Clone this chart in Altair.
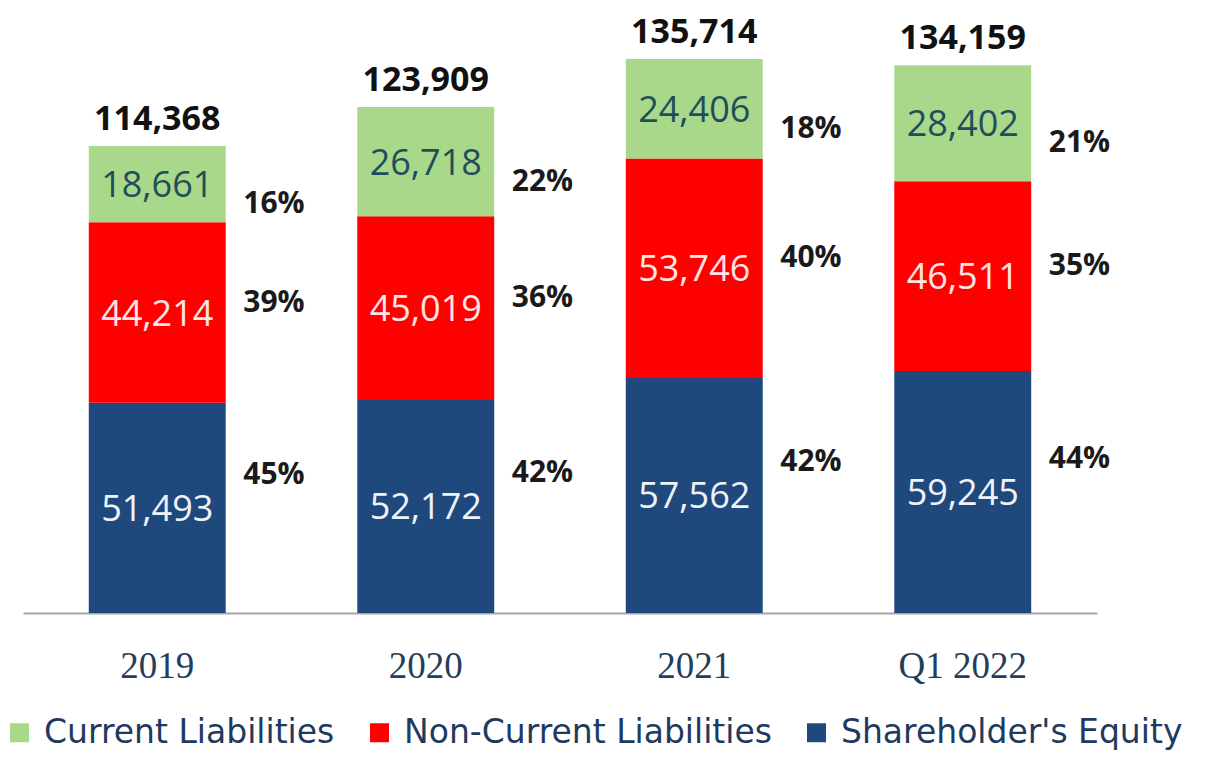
import altair as alt
import pandas as pd

periods = ["2019", "2020", "2021", "Q1 2022"]
series = ["Shareholder's Equity", "Non-Current Liabilities", "Current Liabilities"]
equity = [51493, 52172, 57562, 59245]
noncurrent = [44214, 45019, 53746, 46511]
current = [18661, 26718, 24406, 28402]
totals = [114368, 123909, 135714, 134159]
pct_equity = ["45%", "42%", "42%", "44%"]
pct_noncurrent = ["39%", "36%", "40%", "35%"]
pct_current = ["16%", "22%", "18%", "21%"]

legend_order = ["Current Liabilities", "Non-Current Liabilities", "Shareholder's Equity"]
legend_colors = ["#a9d88a", "#ff0000", "#1f497d"]

values_by_series = [equity, noncurrent, current]
pcts_by_series = [pct_equity, pct_noncurrent, pct_current]

rows = []
for i, p in enumerate(periods):
    base = 0
    for k, s in enumerate(series):
        v = values_by_series[k][i]
        rows.append({"period": p, "series": s, "ord": k, "value": v,
                     "mid": base + v / 2, "pct": pcts_by_series[k][i]})
        base += v
df = pd.DataFrame(rows)
tot_df = pd.DataFrame({"period": periods, "total": totals})

yscale = alt.Scale(domain=[0, 145000], nice=False)
x_enc = alt.X("period:N", sort=periods,
              scale=alt.Scale(paddingInner=0.49, paddingOuter=0.245),
              axis=alt.Axis(title=None, labelAngle=0, ticks=False, grid=False,
                            domainColor="#a6a6a6", domainWidth=2,
                            labelFont="Liberation Serif", labelFontSize=37,
                            labelColor="#253d5b", labelPadding=35))

bars = alt.Chart(df).mark_bar().encode(
    x=x_enc,
    y=alt.Y("value:Q", stack="zero", scale=yscale, axis=None),
    color=alt.Color("series:N",
                    scale=alt.Scale(domain=legend_order, range=legend_colors),
                    legend=alt.Legend(title=None, orient="none", legendX=-20, legendY=695,
                                      direction="horizontal", symbolType="square",
                                      symbolSize=360, symbolStrokeWidth=0,
                                      labelFont="DejaVu Sans", labelFontSize=33,
                                      labelColor="#1f3a5f", labelLimit=600,
                                      labelOffset=8, columnPadding=28, padding=0)),
    order=alt.Order("ord:Q", sort="ascending"),
)

label_colors = {"Shareholder's Equity": "#eef3fa",
                "Non-Current Liabilities": "#ffe5e5",
                "Current Liabilities": "#1f4e5a"}
pct_dy = {"Shareholder's Equity": -33, "Non-Current Liabilities": -10, "Current Liabilities": 20}

layers = [bars]
for s in series:
    base = alt.Chart(df).transform_filter(alt.datum.series == s)
    layers.append(base.mark_text(font="Open Sans", fontSize=36, color=label_colors[s],
                                 baseline="middle", dy=2).encode(
        x=alt.X("period:N", sort=periods),
        y=alt.Y("mid:Q", scale=yscale),
        text=alt.Text("value:Q", format=",d"),
    ))
    layers.append(base.mark_text(font="Open Sans", fontSize=30, fontWeight="bold",
                                 color="#1a1a1a", align="left", baseline="middle",
                                 dx=86, dy=pct_dy[s]).encode(
        x=alt.X("period:N", sort=periods),
        y=alt.Y("mid:Q", scale=yscale),
        text="pct:N",
    ))

tot_text = alt.Chart(tot_df).mark_text(font="Open Sans", fontSize=34, fontWeight="bold",
                                       color="#111111", baseline="middle", dy=-26).encode(
    x=alt.X("period:N", sort=periods),
    y=alt.Y("total:Q", scale=yscale),
    text=alt.Text("total:Q", format=",d"),
)
layers.append(tot_text)

chart = alt.layer(*layers).properties(
    width=1074, height=592,
    padding={"left": 15, "top": 13, "right": 110, "bottom": 137},
    autosize=alt.AutoSizeParams(type="none"),
).configure_view(strokeWidth=0)

chart.save("out.html", embed_options={"renderer": "svg", "actions": False})
